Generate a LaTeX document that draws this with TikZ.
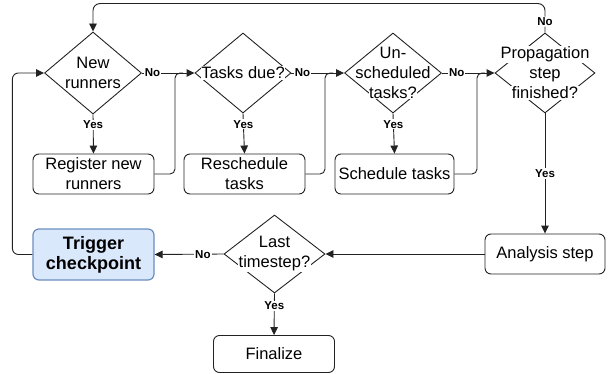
\documentclass[tikz,border=0pt]{standalone}
\usepackage{fontspec}
\setmainfont{Liberation Sans}
\usetikzlibrary{shapes.geometric,arrows.meta,calc}
\definecolor{trigfill}{HTML}{DAE8FC}
\definecolor{trigdraw}{HTML}{6C8EBF}
\definecolor{edgecol}{HTML}{222222}
% one line of diamond text on a tight white ground
\newcommand\wline[1]{{\setlength{\fboxsep}{0.6pt}\colorbox{white}{#1}}}

\begin{document}
\begin{tikzpicture}[x=1pt,y=-1pt,
  font=\fontsize{16.5}{20}\selectfont,
  line width=0.9pt,
  box/.style={draw=edgecol, rounded corners=6pt, minimum width=#1,
    minimum height=40pt, inner sep=0pt, align=center},
  decision/.style={draw=edgecol, diamond, minimum width=#1,
    minimum height=80pt, inner sep=0pt},
  dtext/.style={align=center, inner sep=0pt},
  flow/.style={draw=edgecol, -{Triangle[length=8pt,width=7.5pt]}},
  joiner/.style={draw=edgecol, rounded corners=5pt},
  lab/.style={font=\fontsize{11.5}{12}\selectfont\bfseries, fill=white,
    inner sep=1pt},
]
\useasboundingbox (0,0) rectangle (615,374);

% decisions of the main loop
\node[decision=97pt, minimum height=82pt] (d1) at (93,73) {};
\node[dtext] (d1t) at (d1) {\wline{New}\\\wline{runners}};
\node[decision=96pt] (d2) at (243,73) {};
\node[dtext] (d2t) at (d2) {\wline{Tasks due?}};
\node[decision=97pt] (d3) at (393,73) {};
\node[dtext] (d3t) at (d3) {\wline{Un-}\\\wline{scheduled}\\\wline{tasks?}};
\node[decision=100pt] (d4) at (545,73) {};
\node[dtext] (d4t) at (d4) {\wline{Propagation}\\\wline{step}\\\wline{finished?}};

% actions
\node[box=121pt] (reg) at (93.5,174) {Register new\\runners};
\node[box=121pt] (resch) at (244.5,174) {Reschedule\\tasks};
\node[box=119pt] (sched) at (394.5,174) {Schedule tasks};
\node[box=120pt] (ana) at (545,254) {Analysis step};
\node[decision=101pt, minimum height=78pt] (d5) at (274.5,254) {};
\node[dtext] (d5t) at (d5) {\wline{Last}\\\wline{timestep?}};
\node[box=121pt, minimum height=51pt, fill=trigfill, draw=trigdraw,
  line width=1.2pt, font=\fontsize{18}{20}\selectfont\bfseries]
  (trig) at (93.5,254.5) {Trigger\\checkpoint};
\node[box=121pt, minimum height=37pt] (fin) at (274,354) {Finalize};

% junction points where the action boxes rejoin the main line
\coordinate (j1) at (175,73);
\coordinate (j2) at (325,73);
\coordinate (j3) at (477,73);

% "No" branches along the top row
\draw[flow] (d1.east) -- node[lab,pos=0.2] {No} (d2.west);
\draw[flow] (d2.east) -- node[lab,pos=0.21] {No} (d3.west);
\draw[flow] (d3.east) -- node[lab,pos=0.28] {No} (d4.west);

% "Yes" branches down to the actions
\draw[flow] (d1.south) -- node[lab,pos=0.27] {Yes} (reg.north);
\draw[flow] (d2.south) -- node[lab,pos=0.27] {Yes} (resch.north);
\draw[flow] (d3.south) -- node[lab,pos=0.27] {Yes} (sched.north);

% actions rejoining the main line
\draw[joiner] (reg.east) -| (j1) -- ++(8,0);
\draw[joiner] (resch.east) -| (j2) -- ++(8,0);
\draw[joiner] (sched.east) -| (j3) -- ++(8,0);

% propagation loop back to the start
\draw[flow, rounded corners=7pt] (d4.north) -- node[lab,pos=0.38] {No}
  ++(0,-29) -| (d1.north);
\draw[flow] (d4.south) -- node[lab,pos=0.5] {Yes} (ana.north);
\draw[flow] (ana.west) -- (d5.east);
\draw[flow] (d5.west) -- node[lab,pos=0.3] {No} (trig.east);
\draw[flow] (d5.south) -- node[lab,pos=0.3] {Yes} (fin.north);
\draw[flow, rounded corners=6pt] (trig.west) -- ++(-20,0) |- (d1.west);
\end{tikzpicture}
\end{document}
